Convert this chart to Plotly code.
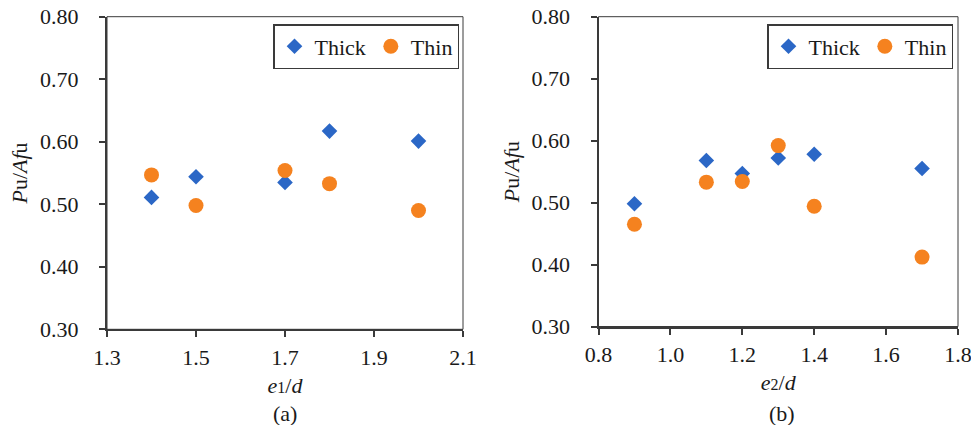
import plotly.graph_objects as go

# Panel (a)
e1_thick_x = [1.4, 1.5, 1.7, 1.8, 2.0]
e1_thick_y = [0.511, 0.544, 0.535, 0.617, 0.601]
e1_thin_x = [1.4, 1.5, 1.7, 1.8, 2.0]
e1_thin_y = [0.547, 0.498, 0.554, 0.533, 0.490]

# Panel (b)
e2_thick_x = [0.9, 1.1, 1.2, 1.3, 1.4, 1.7]
e2_thick_y = [0.498, 0.568, 0.547, 0.572, 0.578, 0.555]
e2_thin_x = [0.9, 1.1, 1.2, 1.3, 1.4, 1.7]
e2_thin_y = [0.465, 0.533, 0.534, 0.592, 0.494, 0.412]

x1_ticks = [1.3, 1.5, 1.7, 1.9, 2.1]
x2_ticks = [0.8, 1.0, 1.2, 1.4, 1.6, 1.8]
y_ticks = [0.30, 0.40, 0.50, 0.60, 0.70, 0.80]

BLUE = "#2B67C6"
ORANGE = "#F5821F"
AXC = "#3a3a3a"
FONT = "Liberation Serif"
FS = 22
W, H = 971, 425

fig = go.Figure()
fig.add_trace(go.Scatter(x=e1_thick_x, y=e1_thick_y, mode="markers", name="Thick",
                         marker=dict(symbol="diamond", size=12, color=BLUE),
                         xaxis="x", yaxis="y", legend="legend"))
fig.add_trace(go.Scatter(x=e1_thin_x, y=e1_thin_y, mode="markers", name="Thin",
                         marker=dict(symbol="circle", size=15, color=ORANGE),
                         xaxis="x", yaxis="y", legend="legend"))
fig.add_trace(go.Scatter(x=e2_thick_x, y=e2_thick_y, mode="markers", name="Thick",
                         marker=dict(symbol="diamond", size=12, color=BLUE),
                         xaxis="x2", yaxis="y2", legend="legend2"))
fig.add_trace(go.Scatter(x=e2_thin_x, y=e2_thin_y, mode="markers", name="Thin",
                         marker=dict(symbol="circle", size=15, color=ORANGE),
                         xaxis="x2", yaxis="y2", legend="legend2"))

xd1 = [107 / W, 463 / W]
xd2 = [598.5 / W, 958 / W]
yd1 = [1 - 329.3 / H, 1 - 16.7 / H]
yd2 = [1 - 326.5 / H, 1 - 16.7 / H]

common_axis = dict(showline=True, linewidth=2, linecolor=AXC, ticks="outside",
                   ticklen=6, tickwidth=1.5, tickcolor=AXC, showgrid=False,
                   zeroline=False, automargin=False, ticklabeloverflow="allow",
                   tickfont=dict(family=FONT, size=FS, color="#1a1a1a"))

x_title_1 = "<i>e</i><span style='font-size:16px'>1</span>/<i>d</i>"
x_title_2 = "<i>e</i><span style='font-size:16px'>2</span>/<i>d</i>"
y_title = "<i>P</i>u/<i>Af</i>u"

fig.update_layout(
    width=W, height=H,
    margin=dict(l=0, r=0, t=0, b=0, autoexpand=False),
    paper_bgcolor="white", plot_bgcolor="white",
    font=dict(family=FONT, size=FS, color="#1a1a1a"),
    xaxis=dict(domain=xd1, range=[1.3, 2.1], tickvals=x1_ticks,
               ticktext=[f"{v:.1f}" for v in x1_ticks], anchor="y",
               title=dict(text=x_title_1, standoff=9, font=dict(family=FONT, size=FS)),
               ticklabelstandoff=1, **common_axis),
    yaxis=dict(domain=yd1, range=[0.30, 0.80], tickvals=y_ticks,
               ticktext=[f"{v:.2f}" for v in y_ticks], anchor="x",
               title=dict(text=y_title, standoff=6, font=dict(family=FONT, size=FS)),
               ticklabelstandoff=16, **common_axis),
    xaxis2=dict(domain=xd2, range=[0.8, 1.8], tickvals=x2_ticks,
                ticktext=[f"{v:.1f}" for v in x2_ticks], anchor="y2",
                title=dict(text=x_title_2, standoff=9, font=dict(family=FONT, size=FS)),
                ticklabelstandoff=1, **common_axis),
    yaxis2=dict(domain=yd2, range=[0.30, 0.80], tickvals=y_ticks,
                ticktext=[f"{v:.2f}" for v in y_ticks], anchor="x2",
                title=dict(text=y_title, standoff=6, font=dict(family=FONT, size=FS)),
                ticklabelstandoff=16, **common_axis),
    legend=dict(orientation="h", x=459 / W, y=1 - 24 / H, xanchor="right", yanchor="top",
                bgcolor="white", bordercolor=AXC, borderwidth=1.5,
                font=dict(family=FONT, size=FS), itemwidth=30, tracegroupgap=0),
    legend2=dict(orientation="h", x=953 / W, y=1 - 24 / H, xanchor="right", yanchor="top",
                 bgcolor="white", bordercolor=AXC, borderwidth=1.5,
                 font=dict(family=FONT, size=FS), itemwidth=30, tracegroupgap=0),
    shapes=[
        dict(type="rect", xref="x domain", yref="y domain", x0=0, x1=1, y0=0, y1=1,
             line=dict(color=AXC, width=1), layer="below"),
        dict(type="rect", xref="x2 domain", yref="y2 domain", x0=0, x1=1, y0=0, y1=1,
             line=dict(color=AXC, width=1), layer="below"),
    ],
    annotations=[
        dict(text="(a)", x=(xd1[0] + xd1[1]) / 2, y=1 - 413 / H, xref="paper", yref="paper",
             showarrow=False, xanchor="center", yanchor="middle",
             font=dict(family=FONT, size=FS)),
        dict(text="(b)", x=782 / W, y=1 - 413 / H, xref="paper", yref="paper",
             showarrow=False, xanchor="center", yanchor="middle",
             font=dict(family=FONT, size=FS)),
    ],
)

fig.write_html("out.html", config={"displayModeBar": False},
               post_script="document.body.style.margin='0';document.body.style.overflow='hidden';")
